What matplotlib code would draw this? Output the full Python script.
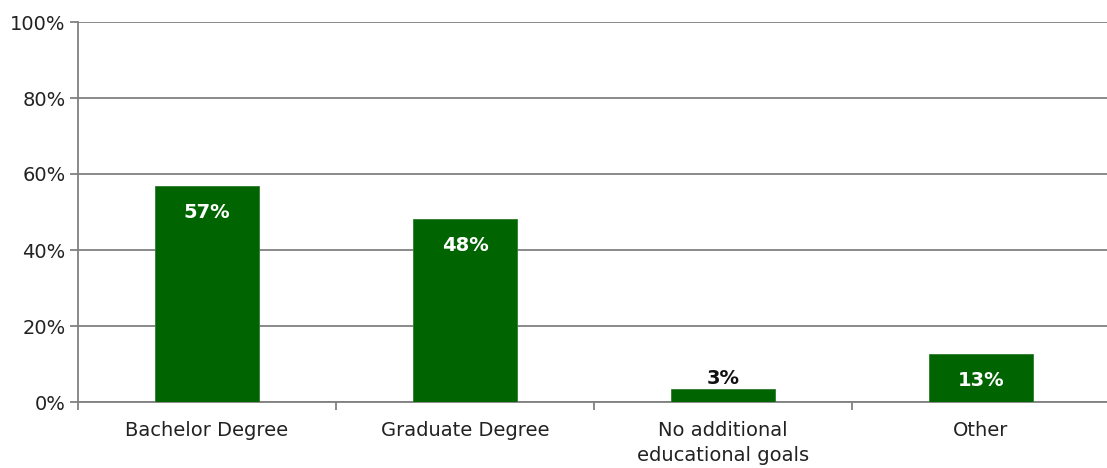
import matplotlib
matplotlib.use("Agg")
import matplotlib.pyplot as plt
from matplotlib.ticker import FuncFormatter, FixedLocator

categories = ["Bachelor Degree", "Graduate Degree", "No additional\neducational goals", "Other"]
values = [56.8, 48.1, 3.4, 12.6]
labels = ["57%", "48%", "3%", "13%"]
yticks = [0, 20, 40, 60, 80, 100]

plt.rcParams['font.family'] = ['DejaVu Sans']

fig = plt.figure(figsize=(11.07, 4.68), dpi=100)
ax = fig.add_axes([78/1107, 1-402/468, (1110-78)/1107, 380/468])

x = list(range(len(categories)))
bars = ax.bar(x, values, width=0.4, color="#006400", edgecolor="#2e7d2e", linewidth=0.6, zorder=3)

ax.set_xlim(-0.5, len(categories)-0.5)
ax.set_ylim(0, 100)
ax.set_yticks(yticks)
ax.yaxis.set_major_formatter(FuncFormatter(lambda v, p: f"{int(v)}%"))
ax.grid(axis='y', color="#808080", linewidth=1.3, zorder=0)
ax.set_axisbelow(True)

for s in ['top', 'right']:
    ax.spines[s].set_visible(False)
for s in ['left', 'bottom']:
    ax.spines[s].set_color("#808080")
    ax.spines[s].set_linewidth(1.3)

ax.set_xticks(x)
ax.set_xticklabels(categories, fontsize=14, color="#222222", linespacing=1.4)
ax.tick_params(axis='x', length=0, pad=14)
ax.xaxis.set_minor_locator(FixedLocator([-0.5, 0.5, 1.5, 2.5, 3.5]))
ax.tick_params(axis='x', which='minor', length=6, width=1.3, color="#808080", direction='out')
ax.tick_params(axis='y', length=6, width=1.3, color="#808080", labelsize=14, labelcolor="#222222", pad=3)

for xi, v, lab in zip(x, values, labels):
    if v < 8:
        ax.text(xi, v + 0.3, lab, ha='center', va='bottom', fontsize=14, fontweight='bold', color='#111111')
    else:
        ax.annotate(lab, (xi, v), xytext=(0, -26), textcoords='offset pixels',
                    ha='center', va='center', fontsize=14, fontweight='bold', color='white')

fig.savefig("out.png", dpi=100)
